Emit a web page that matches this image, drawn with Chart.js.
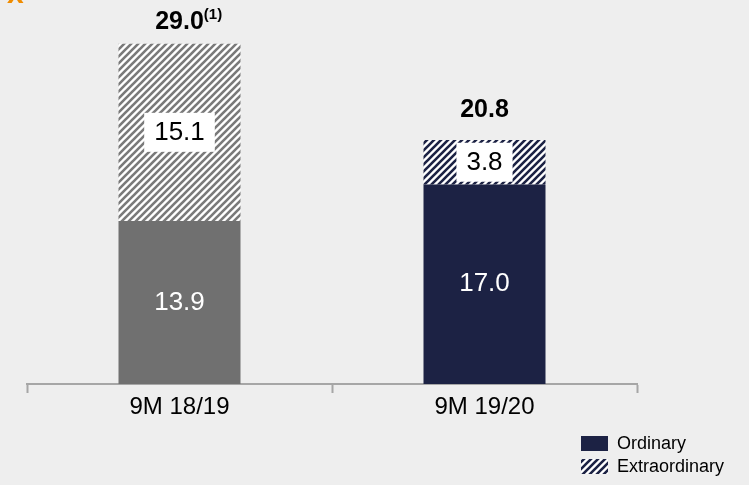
<!DOCTYPE html>
<html>
<head>
<meta charset="utf-8">
<script src="https://cdn.jsdelivr.net/npm/chart.js@4/dist/chart.umd.min.js"></script>
<style>
  html, body { margin: 0; padding: 0; background: #eeeeee; }
  canvas { display: block; }
</style>
</head>
<body>
<canvas id="c" width="749" height="485"></canvas>
<script>
const categories = ["9M 18/19", "9M 19/20"];
const seriesNames = ["Ordinary", "Extraordinary"];
const ordinary = [13.9, 17.0];
const extraordinary = [15.1, 3.8];
const totals = ["29.0", "20.8"];
const totalNotes = ["(1)", ""];

const GRAY = "#707070";
const NAVY = "#1c2244";
const FONT = "'Liberation Sans', Arial, sans-serif";

function hatch(color) {
  const s = 7;
  const c = document.createElement("canvas");
  c.width = c.height = s;
  const g = c.getContext("2d");
  g.fillStyle = "#ffffff";
  g.fillRect(0, 0, s, s);
  g.strokeStyle = color;
  g.lineWidth = 2.6;
  g.beginPath();
  g.moveTo(-1, s + 1); g.lineTo(s + 1, -1);
  g.moveTo(-s / 2 - 1, s / 2 + 1); g.lineTo(s / 2 + 1, -s / 2 - 1);
  g.moveTo(s / 2 - 1, s * 1.5 + 1); g.lineTo(s * 1.5 + 1, s / 2 - 1);
  g.stroke();
  return g.createPattern(c, "repeat");
}

const labelsPlugin = {
  id: "labels",
  afterDatasetsDraw(chart) {
    const ctx = chart.ctx;
    const m0 = chart.getDatasetMeta(0);
    const m1 = chart.getDatasetMeta(1);
    ctx.save();
    ctx.textAlign = "center";
    ctx.textBaseline = "middle";
    categories.forEach((_, i) => {
      // ordinary value, white text
      const b0 = m0.data[i];
      ctx.font = "26px " + FONT;
      ctx.fillStyle = "#ffffff";
      ctx.fillText(ordinary[i].toFixed(1), b0.x, (b0.y + b0.base) / 2);

      // extraordinary value in white box
      const b1 = m1.data[i];
      const cy = (b1.y + b1.base) / 2;
      const txt = extraordinary[i].toFixed(1);
      const tw = ctx.measureText(txt).width;
      ctx.fillStyle = "#ffffff";
      ctx.fillRect(b1.x - tw / 2 - 10, cy - 19.5, tw + 20, 39);
      ctx.fillStyle = "#000000";
      ctx.fillText(txt, b1.x, cy + 1);

      // totals
      const gap = i === 0 ? 22 : 30;
      ctx.font = "bold 25px " + FONT;
      const tt = totals[i];
      const w = ctx.measureText(tt).width;
      ctx.fillText(tt, b1.x, b1.y - gap);
      if (totalNotes[i]) {
        ctx.font = "bold 15px " + FONT;
        ctx.textAlign = "left";
        ctx.fillText(totalNotes[i], b1.x + w / 2, b1.y - gap - 7);
        ctx.textAlign = "center";
      }
    });

    // legend
    const items = [NAVY, hatch(NAVY)];
    ctx.textAlign = "left";
    ctx.font = "18px " + FONT;
    seriesNames.forEach((name, k) => {
      const y = 436 + k * 23;
      ctx.fillStyle = items[k];
      ctx.fillRect(581, y, 27, 15);
      ctx.fillStyle = "#000000";
      ctx.fillText(name, 617, y + 8);
    });

    // cropped title fragment
    ctx.fillStyle = "#f08c00";
    ctx.font = "bold 30px " + FONT;
    ctx.textBaseline = "alphabetic";
    ctx.fillText("x", 7, 3);
    ctx.restore();
  }
};

const bgPlugin = {
  id: "bg",
  beforeDraw(chart) {
    const ctx = chart.ctx;
    ctx.save();
    ctx.fillStyle = "#eeeeee";
    ctx.fillRect(0, 0, chart.width, chart.height);
    ctx.restore();
  }
};

new Chart(document.getElementById("c"), {
  type: "bar",
  data: {
    labels: categories,
    datasets: [
      {
        label: seriesNames[0],
        data: ordinary,
        backgroundColor: [GRAY, NAVY],
        borderWidth: 0
      },
      {
        label: seriesNames[1],
        data: extraordinary,
        backgroundColor: [hatch("#7a7a7a"), hatch(NAVY)],
        borderWidth: 0
      }
    ]
  },
  options: {
    responsive: false,
    animation: false,
    devicePixelRatio: 1,
    layout: { padding: { left: 27, right: 112, top: 32, bottom: 41 } },
    datasets: { bar: { barPercentage: 0.4, categoryPercentage: 1.0 } },
    plugins: {
      legend: { display: false },
      tooltip: { enabled: false }
    },
    scales: {
      x: {
        stacked: true,
        offset: true,
        afterFit: (s) => { s.height = 60; },
        border: { display: true, color: "#a6a6a6", width: 2 },
        grid: {
          display: true,
          offset: true,
          drawOnChartArea: false,
          drawTicks: true,
          tickLength: 9,
          tickWidth: 2,
          color: "#a6a6a6"
        },
        ticks: {
          color: "#000000",
          padding: 0,
          font: { family: FONT, size: 24 }
        }
      },
      y: {
        stacked: true,
        display: false,
        min: 0,
        max: 30
      }
    }
  },
  plugins: [bgPlugin, labelsPlugin]
});
</script>
</body>
</html>
